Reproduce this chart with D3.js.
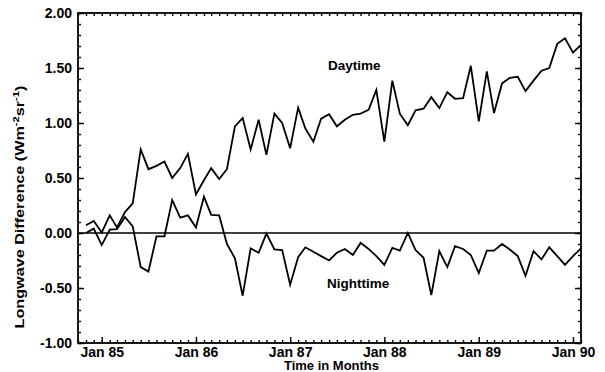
<!DOCTYPE html>
<html>
<head>
<meta charset="utf-8">
<script src="https://cdn.jsdelivr.net/npm/d3@7"></script>
<style>
  body { margin: 0; background: #fff; }
  svg { display: block; font-family: "Liberation Sans", Arial, Helvetica, sans-serif; }
  .tick line { stroke: #000; stroke-width: 1.4; }
  .tick text { font-size: 14px; font-weight: bold; fill: #000; }
</style>
</head>
<body>
<div id="chart"></div>
<script>
// Months of the record (one value per month)
const months = [
    '1984-11', '1984-12',
    '1985-01', '1985-02', '1985-03', '1985-04', '1985-05', '1985-06', '1985-07', '1985-08', '1985-09', '1985-10', '1985-11', '1985-12',
    '1986-01', '1986-02', '1986-03', '1986-04', '1986-05', '1986-06', '1986-07', '1986-08', '1986-09', '1986-10', '1986-11', '1986-12',
    '1987-01', '1987-02', '1987-03', '1987-04', '1987-05', '1987-06', '1987-07', '1987-08', '1987-09', '1987-10', '1987-11', '1987-12',
    '1988-01', '1988-02', '1988-03', '1988-04', '1988-05', '1988-06', '1988-07', '1988-08', '1988-09', '1988-10', '1988-11', '1988-12',
    '1989-01', '1989-02', '1989-03', '1989-04', '1989-05', '1989-06', '1989-07', '1989-08', '1989-09', '1989-10', '1989-11', '1989-12',
    '1990-01', '1990-02'
];

// Daytime longwave difference
const daytime = [
    0.07, 0.11,
    0.005, 0.16, 0.05, 0.19, 0.27, 0.76, 0.58, 0.61, 0.65, 0.50, 0.59, 0.72,
    0.35, 0.48, 0.59, 0.49, 0.58, 0.97, 1.045, 0.76, 1.03, 0.71, 1.085, 1.00,
    0.77, 1.14, 0.95, 0.83, 1.04, 1.08, 0.97, 1.03, 1.075, 1.085, 1.12, 1.30,
    0.83, 1.385, 1.085, 0.98, 1.115, 1.13, 1.235, 1.135, 1.28, 1.22, 1.225, 1.52,
    1.015, 1.47, 1.09, 1.36, 1.41, 1.42, 1.29, 1.385, 1.475, 1.50, 1.72, 1.77,
    1.64, 1.71
];

// Nighttime longwave difference
const nighttime = [
    0.00, 0.04,
    -0.11, 0.03, 0.035, 0.145, 0.06, -0.31, -0.35, -0.03, -0.03, 0.30, 0.14, 0.16,
    0.05, 0.33, 0.165, 0.16, -0.10, -0.23, -0.57, -0.14, -0.18, -0.005, -0.15, -0.155,
    -0.47, -0.22, -0.13, -0.17, -0.21, -0.25, -0.18, -0.145, -0.20, -0.09, -0.145, -0.21,
    -0.29, -0.135, -0.16, 0.00, -0.155, -0.225, -0.565, -0.165, -0.31, -0.12, -0.145, -0.20,
    -0.365, -0.16, -0.16, -0.10, -0.15, -0.21, -0.39, -0.165, -0.24, -0.13, -0.21, -0.29,
    -0.21, -0.14
];

// Axis ticks
const yMajorTicks = [-1.0, -0.5, 0.0, 0.5, 1.0, 1.5, 2.0];
const xLabelTicks = ['1985-01', '1986-01', '1987-01', '1988-01', '1989-01', '1990-01'];
const xLabels = ['Jan 85', 'Jan 86', 'Jan 87', 'Jan 88', 'Jan 89', 'Jan 90'];

// Configuration
const config = {
    width: 605,
    height: 372,
    margin: { top: 13, right: 24, bottom: 29, left: 78 }
};

const parseMonth = d3.timeParse('%Y-%m');
const innerW = config.width - config.margin.left - config.margin.right;
const innerH = config.height - config.margin.top - config.margin.bottom;

const svg = d3.select('#chart')
    .append('svg')
    .attr('width', config.width)
    .attr('height', config.height);

const g = svg.append('g')
    .attr('transform', `translate(${config.margin.left},${config.margin.top})`);

// Scales
const x = d3.scaleTime()
    .domain([new Date(1984, 9, 1), new Date(1990, 1, 1)])
    .range([0, innerW]);

const y = d3.scaleLinear()
    .domain([-1, 2])
    .range([innerH, 0]);

const monthTicks = d3.timeMonth.range(new Date(1984, 9, 1), new Date(1990, 1, 2));
const yMinorTicks = d3.range(-10, 21).map(d => d / 10);

// Minor ticks, all four sides, pointing inward
g.append('g')
    .attr('transform', `translate(0,${innerH})`)
    .call(d3.axisBottom(x).tickValues(monthTicks).tickSize(-3).tickFormat(''));
g.append('g')
    .call(d3.axisTop(x).tickValues(monthTicks).tickSize(-3).tickFormat(''));
g.append('g')
    .call(d3.axisLeft(y).tickValues(yMinorTicks).tickSize(-3).tickFormat(''));
g.append('g')
    .attr('transform', `translate(${innerW},0)`)
    .call(d3.axisRight(y).tickValues(yMinorTicks).tickSize(-3).tickFormat(''));

// Major ticks with labels
g.append('g')
    .attr('transform', `translate(0,${innerH})`)
    .call(d3.axisBottom(x)
        .tickValues(xLabelTicks.map(parseMonth))
        .tickSize(-6)
        .tickPadding(4)
        .tickFormat((d, i) => xLabels[i]));
g.append('g')
    .call(d3.axisLeft(y)
        .tickValues(yMajorTicks)
        .tickSize(-6)
        .tickPadding(6)
        .tickFormat(d => d.toFixed(2)));
g.append('g')
    .attr('transform', `translate(${innerW},0)`)
    .call(d3.axisRight(y).tickValues(yMajorTicks).tickSize(-6).tickFormat(''));

g.selectAll('.domain').remove();

// Frame
g.append('rect')
    .attr('width', innerW)
    .attr('height', innerH)
    .attr('fill', 'none')
    .attr('stroke', '#000')
    .attr('stroke-width', 1.8);

// Zero line
g.append('line')
    .attr('x1', 0)
    .attr('x2', innerW)
    .attr('y1', y(0))
    .attr('y2', y(0))
    .attr('stroke', '#000')
    .attr('stroke-width', 1.6);

// Series lines
const line = d3.line()
    .x((d, i) => x(parseMonth(months[i])))
    .y(d => y(d));

[daytime, nighttime].forEach(series => {
    g.append('path')
        .datum(series)
        .attr('d', line)
        .attr('fill', 'none')
        .attr('stroke', '#000')
        .attr('stroke-width', 1.8)
        .attr('stroke-linejoin', 'miter');
});

// Series labels
g.append('text')
    .attr('x', x(parseMonth('1987-06')) - 1)
    .attr('y', y(1.5) + 2)
    .attr('font-size', 13.5)
    .attr('font-weight', 'bold')
    .text('Daytime');

g.append('text')
    .attr('x', x(parseMonth('1987-06')) - 2)
    .attr('y', y(-0.5) - 0.5)
    .attr('font-size', 13.5)
    .attr('font-weight', 'bold')
    .text('Nighttime');

// Axis titles
svg.append('text')
    .attr('x', config.margin.left + innerW / 2 + 2)
    .attr('y', 370)
    .attr('text-anchor', 'middle')
    .attr('font-size', 13)
    .attr('font-weight', 'bold')
    .text('Time in Months');

const yTitle = svg.append('text')
    .attr('transform', 'translate(24,207) rotate(-90)')
    .attr('text-anchor', 'middle')
    .attr('font-size', 13)
    .attr('font-weight', 'bold')
    .attr('textLength', 243)
    .attr('lengthAdjust', 'spacingAndGlyphs');
yTitle.append('tspan').text('Longwave Difference (Wm');
yTitle.append('tspan').attr('font-size', 9).attr('dy', -5).text('-2');
yTitle.append('tspan').attr('dy', 5).text('sr');
yTitle.append('tspan').attr('font-size', 9).attr('dy', -5).text('-1');
yTitle.append('tspan').attr('dy', 5).text(')');
</script>
</body>
</html>
